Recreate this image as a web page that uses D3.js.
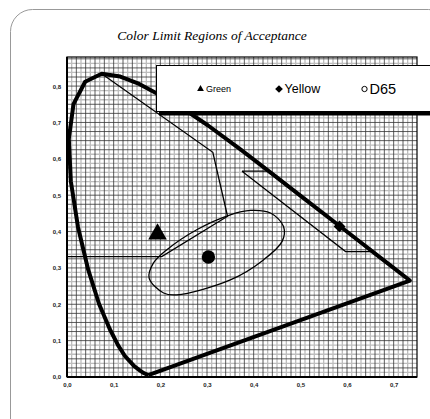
<!DOCTYPE html>
<html><head><meta charset="utf-8">
<script src="https://cdn.jsdelivr.net/npm/d3@7"></script>
<style>body{margin:0;background:#fff}svg{display:block}</style>
</head><body>
<svg id="c" width="430" height="419"></svg>
<script>
const title = "Color Limit Regions of Acceptance";
const xTicks = [0,0.1,0.2,0.3,0.4,0.5,0.6,0.7];
const yTicks = [0,0.1,0.2,0.3,0.4,0.5,0.6,0.7,0.8];
// spectral locus (x,y)
const locusX = [0.1741,0.1644,0.1566,0.1440,0.1241,0.1096,0.0913,0.0687,0.0454,0.0235,0.0082,0.0039,0.0139,0.0389,0.0743,0.1142,0.1547,0.2296,0.3016,0.3731,0.4441,0.5125,0.5752,0.6270,0.6658,0.6915,0.7347,0.1741];
const locusY = [0.0050,0.0109,0.0177,0.0297,0.0578,0.0868,0.1327,0.2007,0.2950,0.4127,0.5384,0.6548,0.7502,0.8120,0.8338,0.8262,0.8059,0.7543,0.6923,0.6245,0.5547,0.4866,0.4242,0.3725,0.3340,0.3083,0.2653,0.0050];
// green acceptance region
const greenX = [0.0743,0.3125,0.344,0.203,0.002];
const greenY = [0.8338,0.618,0.442,0.331,0.331];
// yellow acceptance region
const yellowX = [0.375,0.430,0.652,0.597,0.375];
const yellowY = [0.566,0.566,0.345,0.345,0.566];
// D65 tolerance ellipse
const ellX = [0.176,0.207,0.235,0.350,0.421,0.461,0.464,0.436,0.393,0.350,0.278,0.214,0.185];
const ellY = [0.272,0.231,0.226,0.267,0.322,0.373,0.414,0.451,0.458,0.446,0.405,0.350,0.313];
const markerNames = ["Green","Yellow","D65"];
const markerX = [0.194,0.584,0.303];
const markerY = [0.393,0.414,0.330];

const svg = d3.select("#c");
const L=67, R=417, T=57, B=377;
const x = d3.scaleLinear().domain([0,0.75]).range([L,R]);
const y = d3.scaleLinear().domain([0,0.88]).range([B,T]);

// outer frame
svg.append("rect").attr("x",10.5).attr("y",9.5).attr("width",440).attr("height",440).attr("rx",22)
  .attr("fill","#fff").attr("stroke","#999").attr("stroke-width",1);

svg.append("text").attr("x",212).attr("y",40).attr("text-anchor","middle")
  .attr("font-family","Liberation Serif, serif").attr("font-style","italic").attr("font-size",13.5).text(title);

const g = svg.append("g");
// gray grid
const gx = d3.range(0.01,0.75,0.02), gy = d3.range(0.0125,0.88,0.025);
g.selectAll(".gvx").data(gx).join("line").attr("x1",d=>x(d)).attr("x2",d=>x(d)).attr("y1",T).attr("y2",B).attr("stroke","#bdbdbd").attr("stroke-width",1.3);
g.selectAll(".gvy").data(gy).join("line").attr("y1",d=>y(d)).attr("y2",d=>y(d)).attr("x1",L).attr("x2",R).attr("stroke","#bdbdbd").attr("stroke-width",1.3);
const bx = d3.range(0.02,0.75,0.02), by = d3.range(0.025,0.88,0.025);
g.selectAll(".bvx").data(bx).join("line").attr("x1",d=>x(d)).attr("x2",d=>x(d)).attr("y1",T).attr("y2",B).attr("stroke","#333").attr("stroke-width",0.8);
g.selectAll(".bvy").data(by).join("line").attr("y1",d=>y(d)).attr("y2",d=>y(d)).attr("x1",L).attr("x2",R).attr("stroke","#333").attr("stroke-width",0.8);

svg.append("rect").attr("x",L).attr("y",T).attr("width",R-L).attr("height",B-T).attr("fill","none").attr("stroke","#000").attr("stroke-width",1.2);
svg.append("line").attr("x1",L).attr("x2",R).attr("y1",B).attr("y2",B).attr("stroke","#000").attr("stroke-width",2);
svg.append("line").attr("x1",L).attr("x2",L).attr("y1",T).attr("y2",B).attr("stroke","#000").attr("stroke-width",2);

// axes labels
const fmt = d=>d3.format(".1f")(d).replace(".",",");
const ax = svg.append("g").attr("transform",`translate(0,${B})`).call(d3.axisBottom(x).tickValues(xTicks).tickFormat(fmt).tickSize(0).tickPadding(6));
const ay = svg.append("g").attr("transform",`translate(${L},0)`).call(d3.axisLeft(y).tickValues(yTicks).tickFormat(fmt).tickSize(0).tickPadding(6));
[ax,ay].forEach(a=>{a.select(".domain").remove();a.selectAll("text").attr("font-family","Liberation Sans, Arial, sans-serif").attr("font-weight","bold").attr("font-size",6).attr("fill","#222");});

const line = d3.line().x(d=>x(d[0])).y(d=>y(d[1]));
const zip=(a,b)=>a.map((v,i)=>[v,b[i]]);
svg.append("path").attr("d",line(zip(greenX,greenY))).attr("fill","none").attr("stroke","#000").attr("stroke-width",1.3);
svg.append("path").attr("d",line(zip(yellowX,yellowY))).attr("fill","none").attr("stroke","#000").attr("stroke-width",1.3);
svg.append("path").attr("d",d3.line().x(d=>x(d[0])).y(d=>y(d[1])).curve(d3.curveCatmullRomClosed)(zip(ellX,ellY))).attr("fill","none").attr("stroke","#000").attr("stroke-width",1.3);
svg.append("path").attr("d",line(zip(locusX,locusY))).attr("fill","none").attr("stroke","#000").attr("stroke-width",4).attr("stroke-linejoin","round");

// markers
const sym = [d3.symbolTriangle,d3.symbolSquare,d3.symbolCircle];
const sizes = [150,70,140];
markerNames.forEach((n,i)=>{
  svg.append("path").attr("d",d3.symbol(sym[i],sizes[i])()).attr("transform",`translate(${x(markerX[i])},${y(markerY[i])})${i==1?' rotate(45)':''}`).attr("fill","#000");
});

// legend
const lg = svg.append("g");
lg.append("rect").attr("x",159).attr("y",68).attr("width",300).attr("height",47.5).attr("fill","#000");
lg.append("rect").attr("x",156.5).attr("y",65.5).attr("width",300).attr("height",46).attr("fill","#fff").attr("stroke","#000").attr("stroke-width",1);
const legX=[200.5,279,364.5], txtX=[206,284.5,369.5], fs=[9,12.5,14.5];
markerNames.forEach((n,i)=>{
  const s = [d3.symbolTriangle,d3.symbolSquare,d3.symbolCircle][i];
  const p = lg.append("path").attr("d",d3.symbol(s,[20,30,22][i])()).attr("transform",`translate(${legX[i]},${89})${i==1?' rotate(45)':''}`);
  if(i==2) p.attr("fill","none").attr("stroke","#000").attr("stroke-width",1); else p.attr("fill","#000");
  lg.append("text").attr("x",txtX[i]).attr("y",[92,93,93.5][i]).attr("font-family","Liberation Sans, Arial, sans-serif").attr("font-size",fs[i]).text(n);
});
</script>
</body></html>
